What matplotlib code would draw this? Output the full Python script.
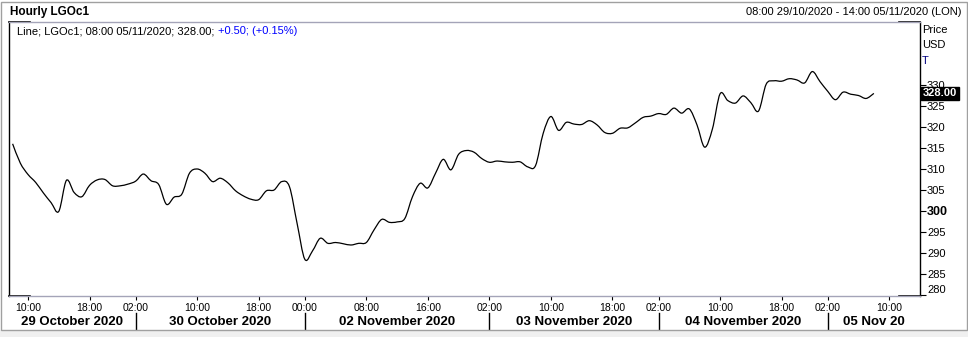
import matplotlib
matplotlib.use("Agg")
import matplotlib.pyplot as plt
import numpy as np
import pandas as pd
from matplotlib.patches import Rectangle, PathPatch
from matplotlib.path import Path

plt.rcParams['font.family'] = ['Liberation Sans', 'DejaVu Sans']

# data: hourly close, LGOc1 (USD/T)
prices = [316.0, 311.4, 308.7, 306.8, 304.3, 302.0, 299.9, 307.3, 304.4, 303.4,
          306.1, 307.4, 307.5, 306.0, 306.0, 306.4, 307.1, 308.8, 307.2, 306.3,
          301.6, 303.3, 304.0, 309.0, 310.0, 309.0, 307.0, 307.8, 306.7, 304.8,
          303.6, 302.8, 302.7, 304.8, 305.0, 307.0, 305.8, 297.0, 288.5, 290.5,
          293.5, 292.3, 292.5, 292.2, 291.9, 292.3, 292.5, 295.5, 298.0, 297.3,
          297.4, 298.2, 303.4, 306.6, 305.5, 309.0, 312.3, 309.8, 313.5, 314.4,
          314.0, 312.5, 311.6, 311.9, 311.7, 311.6, 311.7, 310.5, 310.8, 318.5,
          322.5, 319.2, 321.1, 320.7, 320.6, 321.5, 320.5, 318.7, 318.5, 319.7,
          319.8, 321.0, 322.3, 322.6, 323.2, 323.0, 324.5, 323.3, 324.3, 320.5,
          315.2, 319.5, 327.9, 326.3, 325.7, 327.4, 325.8, 323.8, 330.2, 331.0,
          330.9, 331.5, 331.2, 330.5, 333.2, 330.8, 328.5, 326.5, 328.3, 327.8,
          327.5, 326.8, 328.0]

# trading sessions (hourly bars)
sessions = [("2020-10-29 08:00", "2020-10-29 22:00"),
            ("2020-10-30 01:00", "2020-10-30 22:00"),
            ("2020-11-01 23:00", "2020-11-02 22:00"),
            ("2020-11-03 01:00", "2020-11-03 22:00"),
            ("2020-11-04 01:00", "2020-11-04 22:00"),
            ("2020-11-05 01:00", "2020-11-05 14:00")]

tick_times = ["2020-10-29 10:00", "2020-10-29 18:00", "2020-10-30 02:00",
              "2020-10-30 10:00", "2020-10-30 18:00", "2020-11-02 00:00",
              "2020-11-02 08:00", "2020-11-02 16:00", "2020-11-03 02:00",
              "2020-11-03 10:00", "2020-11-03 18:00", "2020-11-04 02:00",
              "2020-11-04 10:00", "2020-11-04 18:00", "2020-11-05 02:00",
              "2020-11-05 10:00"]
day_starts = ["2020-10-30 02:00", "2020-11-02 00:00", "2020-11-03 02:00",
              "2020-11-04 02:00", "2020-11-05 02:00"]
day_labels = ["29 October 2020", "30 October 2020", "02 November 2020",
              "03 November 2020", "04 November 2020", "05 Nov 20"]

bars = []
for a, b in sessions:
    bars += list(pd.date_range(a, b, freq="h"))
pos = {t: i for i, t in enumerate(bars)}

fig = plt.figure(figsize=(9.68, 3.37), dpi=100)
ax = fig.add_axes([9/968, 41/337, 911/968, 274/337])

# smooth line through the hourly closes (bezier segments)
pts = np.column_stack([np.arange(len(prices)), prices]).astype(float)
ext = np.vstack([pts[0], pts, pts[-1]])
verts = [pts[0]]
codes = [Path.MOVETO]
for i in range(len(pts) - 1):
    p0, p1, p2, p3 = ext[i], ext[i + 1], ext[i + 2], ext[i + 3]
    verts += [p1 + (p2 - p0) / 6, p2 - (p3 - p1) / 6, p2]
    codes += [Path.CURVE4] * 3
ax.add_patch(PathPatch(Path(verts, codes), fc="none", ec="black", lw=0.9))

xmin, xmax = -0.47, len(bars) - 1
ax.set_xlim(xmin, xmax)
ax.set_ylim(279.76, 345)

# right price axis
ax.yaxis.tick_right()
ax.set_yticks(range(280, 335, 5))
ax.tick_params(axis="y", direction="out", length=4, width=0.8, labelsize=8, pad=1)
for lab in ax.get_yticklabels():
    if lab.get_text() == "300":
        lab.set_fontweight("bold")
        lab.set_fontsize(9)
ax.get_yticklabels()[0].set_va("bottom")

# time axis
tpos = [pos[pd.Timestamp(t)] for t in tick_times]
ax.set_xticks(tpos)
ax.set_xticklabels([t[-5:] for t in tick_times])
ax.tick_params(axis="x", direction="out", length=3, width=0.8, labelsize=7.5, pad=2)

# frame
gray = "#a4a4b8"
ax.spines["left"].set_color("black")
ax.spines["right"].set_color("black")
ax.spines["top"].set_color(gray)
ax.spines["bottom"].set_color(gray)
for s in ax.spines.values():
    s.set_linewidth(1)
cw = 21 / 911
for yy in (0, 1):
    ax.plot([0, cw], [yy, yy], color="black", lw=1.2, transform=ax.transAxes, clip_on=False)
    ax.plot([1 - cw, 1], [yy, yy], color="black", lw=1.2, transform=ax.transAxes, clip_on=False)

# day labels and separators
seps = [pos[pd.Timestamp(t)] for t in day_starts]
edges = [xmin] + seps + [xmax]
trans = ax.get_xaxis_transform()
for s in seps:
    ax.plot([s, s], [-0.062, -0.125], color="black", lw=1, transform=trans, clip_on=False)
for i, lab in enumerate(day_labels):
    ax.text((edges[i] + edges[i + 1]) / 2, -0.095, lab, transform=trans,
            ha="center", va="center", fontsize=9.5, fontweight="bold")

# header texts
fig.text(10/968, 1 - 12/337, "Hourly LGOc1", fontsize=8.5, fontweight="bold",
         ha="left", va="center")
fig.text(962/968, 1 - 12/337, "08:00 29/10/2020 - 14:00 05/11/2020 (LON)",
         fontsize=8, ha="right", va="center")
t1 = fig.text(17/968, 1 - 31/337, "Line; LGOc1; 08:00 05/11/2020; 328.00; ",
              fontsize=8, ha="left", va="center")
fig.canvas.draw()
bb = t1.get_window_extent(renderer=fig.canvas.get_renderer())
fig.text(bb.x1 / fig.bbox.width, 1 - 31/337, "+0.50; (+0.15%)", fontsize=8,
         color="#0000ff", ha="left", va="center")

fig.text(922/968, 1 - 30/337, "Price", fontsize=8, ha="left", va="center")
fig.text(922/968, 1 - 45/337, "USD", fontsize=8, ha="left", va="center")
fig.text(922/968, 1 - 61/337, "T", fontsize=8, color="#000080", ha="left", va="center")

# last price marker
ax.annotate(f"{prices[-1]:.2f}", xy=(1, prices[-1]), xycoords=("axes fraction", "data"),
            xytext=(2, 0), textcoords="offset points", ha="left", va="center",
            fontsize=8, fontweight="bold", color="white", zorder=10,
            bbox=dict(boxstyle="square,pad=0.15", fc="black", ec="black"),
            annotation_clip=False)

# window border
fig.patches.append(Rectangle((0, 0), 1, 7/337, transform=fig.transFigure,
                             fc="#f0f0f0", ec="none"))
fig.patches.append(Rectangle((1/968, 7/337), 966/968, 328/337, transform=fig.transFigure,
                             fc="none", ec="#a0a0a0", lw=1))

fig.savefig("out.png", dpi=100)
